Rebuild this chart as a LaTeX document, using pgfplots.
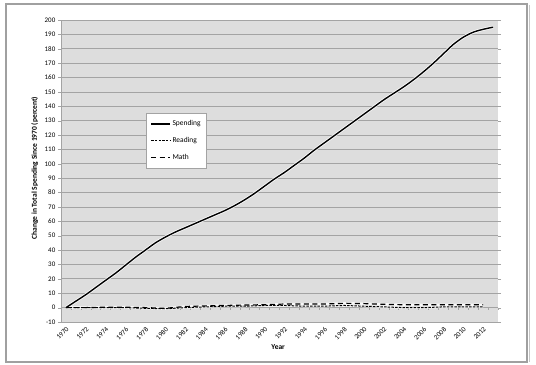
\documentclass[border=0pt]{standalone}
\usepackage{pgfplots}
\pgfplotsset{compat=1.18}
\usepackage{fontspec}
\setmainfont{Carlito}
\definecolor{plotbg}{HTML}{DDDDDD}
\definecolor{gridc}{HTML}{A3A3A3}
\definecolor{framec}{HTML}{A0A0A0}
\begin{document}
\begin{tikzpicture}
\useasboundingbox (0,0) rectangle (536bp,365bp);
\draw[framec, line width=1.3bp] (6bp,3bp) rectangle (527bp,361bp);
\draw[framec!60, line width=1bp] (529bp,3bp) -- (529bp,360bp);
\fill[black, opacity=0.25] (148bp,199bp) rectangle (218bp,250bp);
\begin{axis}[
  at={(61bp,43bp)}, anchor=south west,
  scale only axis, width=437bp, height=302bp,
  xmin=-0.5, xmax=43.5, ymin=-10, ymax=200,
  ytick={-10,0,...,200},
  xtick={0,2,...,42},
  xticklabels={1970,1972,1974,1976,1978,1980,1982,1984,1986,1988,1990,1992,1994,1996,1998,2000,2002,2004,2006,2008,2010,2012},
  xticklabel style={rotate=45, anchor=north east, inner sep=1bp, font=\fontsize{7}{8}\selectfont},
  yticklabel style={font=\fontsize{7}{8}\selectfont, inner sep=2.5bp},
  /pgf/number format/assume math mode=true,
  axis background/.style={fill=plotbg},
  axis line style={draw=none},
  ymajorgrids, grid style={gridc, line width=0.8bp},
  ytick style={gridc}, tick align=outside, major tick length=3bp,
  xtick style={draw=none},
  xlabel={\textbf{Year}},
  xlabel style={at={(axis description cs:0.497,-0.083)}, anchor=center, font=\fontsize{7.5}{8}\selectfont},
  ylabel={\textbf{Change in Total Spending Since 1970 (percent)}},
  ylabel style={at={(axis description cs:-0.06,0.51)}, anchor=center, font=\fontsize{7.5}{8}\selectfont},
  legend style={at={(rel axis cs:0.195,0.692)}, anchor=north west, fill=white, draw=gridc,
    font=\fontsize{7.5}{8}\selectfont, row sep=6bp, inner xsep=4bp, inner ysep=5.5bp},
  legend image post style={xscale=1.1},
  legend cell align=left,
  clip=false,
]
\draw[gridc, line width=0.8bp] (rel axis cs:0,0) -- (rel axis cs:0,1);
\draw[gridc, line width=0.8bp] (axis cs:-0.5,0) -- (axis cs:43.5,0);
\pgfplotsinvokeforeach{-0.5,0.5,...,43.5}{
  \draw[gridc, line width=0.5bp] (axis cs:#1,0) -- (axis cs:#1,-1.8);
}
\addplot[white, line width=3bp, smooth, forget plot, opacity=0.9] coordinates {
(0,0) (1,4.5) (2,9) (3,14) (4,19) (5,24) (6,29.5) (7,35) (8,40)
(9,45) (10,49) (11,52.5) (12,55.5) (13,58.5) (14,61.5) (15,64.5) (16,67.5)
(17,71) (18,75) (19,79.5) (20,84.5) (21,89.5) (22,94) (23,99) (24,104)
(25,109.5) (26,114.5) (27,119.5) (28,124.5) (29,129.5) (30,134.5) (31,139.5)
(32,144.5) (33,149) (34,153.5) (35,158.5) (36,164) (37,170) (38,176.5)
(39,183) (40,188) (41,191.5) (42,193.5) (43,195)
};
\addplot[white, line width=2.2bp, forget plot, opacity=0.8] coordinates {
(0,0) (2,0) (4,0) (6,0) (8,-0.5) (10,-0.8) (12,0) (14,0.5) (16,1)
(18,1) (20,1.5) (22,1.5) (24,1) (26,1) (28,1.5) (30,1) (32,0.5)
(34,0) (36,0) (38,0.5) (40,0.5) (42,0.5)
};
\addplot[white, line width=2.4bp, forget plot, opacity=0.8] coordinates {
(0,0) (2,0) (4,0.3) (6,0.3) (8,0) (10,-0.5) (12,0.8) (14,1.2) (16,1.5)
(18,1.8) (20,2) (22,2.5) (24,2.5) (26,2.5) (28,3) (30,2.8) (32,2.3)
(34,2) (36,2) (38,2) (40,2) (42,2)
};
\addplot[black, line width=1.4bp, smooth] coordinates {
(0,0) (1,4.5) (2,9) (3,14) (4,19) (5,24) (6,29.5) (7,35) (8,40)
(9,45) (10,49) (11,52.5) (12,55.5) (13,58.5) (14,61.5) (15,64.5) (16,67.5)
(17,71) (18,75) (19,79.5) (20,84.5) (21,89.5) (22,94) (23,99) (24,104)
(25,109.5) (26,114.5) (27,119.5) (28,124.5) (29,129.5) (30,134.5) (31,139.5)
(32,144.5) (33,149) (34,153.5) (35,158.5) (36,164) (37,170) (38,176.5)
(39,183) (40,188) (41,191.5) (42,193.5) (43,195)
};
\addlegendentry{Spending}
\addplot[black, line width=1bp, dash pattern=on 2.5bp off 1.2bp] coordinates {
(0,0) (2,0) (4,0) (6,0) (8,-0.5) (10,-0.8) (12,0) (14,0.5) (16,1)
(18,1) (20,1.5) (22,1.5) (24,1) (26,1) (28,1.5) (30,1) (32,0.5)
(34,0) (36,0) (38,0.5) (40,0.5) (42,0.5)
};
\addlegendentry{Reading}
\addplot[black, line width=1.2bp, dash pattern=on 5bp off 3.5bp] coordinates {
(0,0) (2,0) (4,0.3) (6,0.3) (8,0) (10,-0.5) (12,0.8) (14,1.2) (16,1.5)
(18,1.8) (20,2) (22,2.5) (24,2.5) (26,2.5) (28,3) (30,2.8) (32,2.3)
(34,2) (36,2) (38,2) (40,2) (42,2)
};
\addlegendentry{Math}
\end{axis}
\end{tikzpicture}
\end{document}
